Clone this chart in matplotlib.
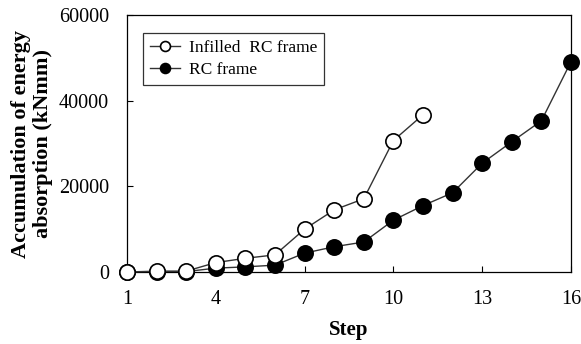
import matplotlib
matplotlib.use("Agg")
import matplotlib.pyplot as plt

steps_infilled = [1, 2, 3, 4, 5, 6, 7, 8, 9, 10, 11]
energy_infilled = [0, 200, 200, 2200, 3200, 4000, 10000, 14500, 17100, 30700, 36700]

steps_rc = [1, 2, 3, 4, 5, 6, 7, 8, 9, 10, 11, 12, 13, 14, 15, 16]
energy_rc = [0, 100, 100, 900, 1200, 1600, 4400, 5900, 7000, 12100, 15500, 18500,
             25400, 30400, 35300, 49100]

x_ticks = [1, 4, 7, 10, 13, 16]
y_ticks = [0, 20000, 40000, 60000]

plt.rcParams['font.family'] = ['Liberation Serif', 'DejaVu Serif']

fig = plt.figure(figsize=(5.81, 3.44), dpi=100)
ax = fig.add_axes([127 / 581, 1 - 272 / 344, 444 / 581, 257 / 344])

ax.plot(steps_rc, energy_rc, color='#333333', lw=1.0, marker='o', ms=11,
        mfc='black', mec='black', mew=1.2, label='RC frame', zorder=2, clip_on=False)
ax.plot(steps_infilled, energy_infilled, color='#333333', lw=1.0, marker='o', ms=11,
        mfc='white', mec='black', mew=1.2, label='Infilled  RC frame', zorder=3, clip_on=False)

ax.set_xlim(1, 16)
ax.set_ylim(0, 60000)
ax.set_xticks(x_ticks)
ax.set_yticks(y_ticks)
ax.tick_params(direction='in', length=4, width=0.8, labelsize=14.5)
ax.tick_params(axis='x', pad=13)
ax.tick_params(axis='y', pad=13)
for s in ax.spines.values():
    s.set_linewidth(0.9)

ax.set_xlabel('Step', fontsize=15, fontweight='bold', labelpad=8)
ax.set_ylabel('Accumulation of energy\nabsorption (kNmm)', fontsize=16,
              fontweight='bold', labelpad=4, linespacing=1.12)

handles, labels = ax.get_legend_handles_labels()
leg = ax.legend(handles[::-1], labels[::-1], loc='upper left',
                bbox_to_anchor=(0.036, 0.93), borderaxespad=0, fontsize=12.5,
                frameon=True, fancybox=False, edgecolor='black', handlelength=1.75,
                handletextpad=0.5, borderpad=0.4, labelspacing=0.35, markerscale=0.65)
leg.get_frame().set_linewidth(0.9)

fig.savefig('out.png', dpi=100)
